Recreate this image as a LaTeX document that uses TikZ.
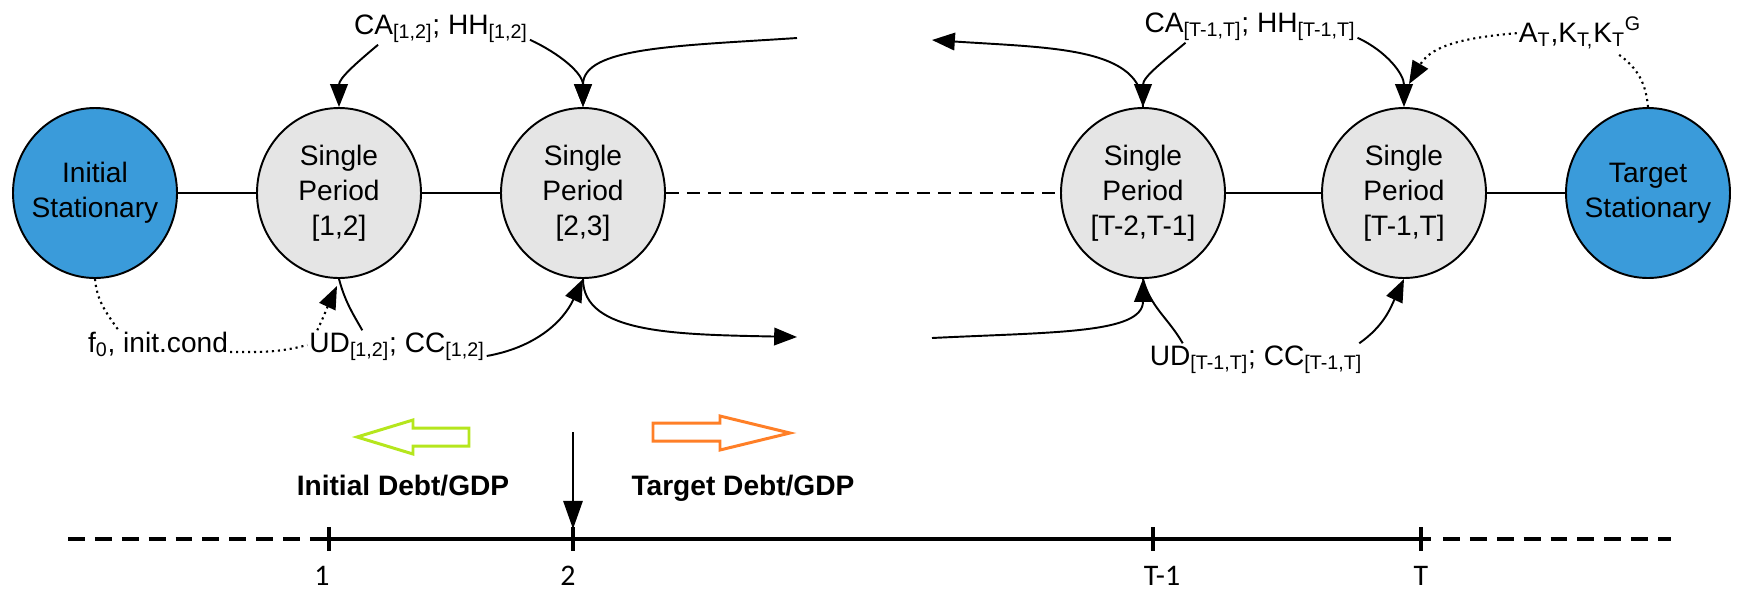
\documentclass[tikz,border=0pt]{standalone}
\usepackage{fontspec}
\setmainfont{Liberation Sans}
\newfontfamily\axisfont{Carlito}
\usetikzlibrary{arrows.meta,shapes.geometric}
\definecolor{statblue}{RGB}{58,155,218}
\definecolor{pergray}{RGB}{229,229,229}
\definecolor{lime}{RGB}{181,230,29}
\definecolor{paintorange}{RGB}{255,127,39}
\newcommand{\circfont}{\fontsize{16}{20}\selectfont}
\newcommand{\lblfont}{\fontsize{16}{19}\selectfont}
\tikzset{
  stat/.style={ellipse,draw=black,line width=1.1pt,fill=#1,minimum width=3.28cm,
    minimum height=3.40cm,inner sep=0pt},
  stat/.default=statblue,
  intext/.style={align=center,font=\circfont,inner sep=0pt},
  lbl/.style={font=\lblfont,inner sep=1pt,anchor=base},
  boldlbl/.style={font=\lblfont\bfseries,inner sep=1pt,anchor=base},
  ticklbl/.style={font={\axisfont\fontsize{17}{20}\selectfont},inner sep=0pt,anchor=base},
  link/.style={line width=1.1pt},
  gaplink/.style={line width=0.8pt,dash pattern=on 7.4pt off 4.5pt},
  flow/.style={line width=1.1pt,-{Triangle[length=13pt,width=10pt]}},
  dotlink/.style={line width=1.2pt,dash pattern=on 1.2pt off 2.2pt},
  dotflow/.style={dotlink,-{Triangle[length=13pt,width=10pt]}},
  axisline/.style={line width=2.3pt},
  axisdash/.style={line width=2.3pt,dash pattern=on 9.6pt off 5.7pt},
  fat/.style={line width=1.7pt,draw=#1,line join=miter},
}
\begin{document}
\begin{tikzpicture}
\useasboundingbox (0,0) rectangle (34.74,-11.88);
% states and periods
\node[stat,label={[intext]center:Initial\\Stationary}] (init) at (1.90,-3.86) {};
\node[stat=pergray,label={[intext]center:Single\\Period\\{[1,2]}}] (p1) at (6.78,-3.86) {};
\node[stat=pergray,label={[intext]center:Single\\Period\\{[2,3]}}] (p2) at (11.66,-3.86) {};
\node[stat=pergray,label={[intext]center:Single\\Period\\{[T-2,T-1]}}] (pA) at (22.86,-3.86) {};
\node[stat=pergray,label={[intext]center:Single\\Period\\{[T-1,T]}}] (pB) at (28.08,-3.86) {};
\node[stat,label={[intext]center:Target\\Stationary}] (targ) at (32.96,-3.86) {};
\draw[link] (init) -- (p1);
\draw[link] (p1) -- (p2);
\draw[gaplink] (p2) -- (pA);
\draw[link] (pA) -- (pB);
\draw[link] (pB) -- (targ);
% labels
\node[lbl] (caA) at (8.82,-0.68) {CA\textsubscript{[1,2]}; HH\textsubscript{[1,2]}};
\node[lbl] (caB) at (25.00,-0.64) {CA\textsubscript{[T-1,T]}; HH\textsubscript{[T-1,T]}};
\node[lbl] (atlbl) at (31.60,-0.84) {A\textsubscript{T},K\textsubscript{T,}K\textsubscript{T}\textsuperscript{G}};
\node[lbl] (f0lbl) at (3.16,-7.04) {f\textsubscript{0}, init.cond};
\node[lbl] (udA) at (7.94,-7.04) {UD\textsubscript{[1,2]}; CC\textsubscript{[1,2]}};
\node[lbl] (udB) at (25.12,-7.30) {UD\textsubscript{[T-1,T]}; CC\textsubscript{[T-1,T]}};
\coordinate (gapTL) at (15.94,-0.76);
\coordinate (gapTR) at (18.64,-0.80);
\coordinate (gapBL) at (15.94,-6.74);
\coordinate (gapBR) at (18.64,-6.76);
% top flows
\draw[flow] ([xshift=0.52cm]caA.south west) to[out=-140,in=90] (p1.north);
\draw[flow] ([yshift=0.1cm]caA.south east) to[out=-25,in=90] (p2.north);
\draw[flow] (gapTL) .. controls +(-2.4,-0.16) and +(0,1.2) .. (p2.north);
\draw[flow] (pA.north) .. controls +(0,1.2) and +(2.4,-0.16) .. (gapTR);
\draw[flow] ([xshift=0.86cm]caB.south west) to[out=-140,in=90] (pA.north);
\draw[flow] ([yshift=0.1cm]caB.south east) to[out=-25,in=90] (pB.north);
\draw[dotlink] (targ.north) to[out=95,in=-35] ([xshift=-0.5cm,yshift=-0.06cm]atlbl.south east);
\draw[dotflow] (atlbl.west) to[out=185,in=60] ([xshift=0.1cm,yshift=0.46cm]pB.north);
% bottom flows
\draw[dotlink] (init.south) to[out=-85,in=125] ([xshift=-0.8cm]f0lbl.north);
\draw[dotlink] (f0lbl.base east) to[out=0,in=195] ([yshift=0.14cm]udA.base west);
\draw[dotflow] ([xshift=0.2cm]udA.north west) to[out=65,in=-115] ([xshift=-0.04cm,yshift=-0.14cm]p1.south);
\draw[link] (p1.south) to[out=-75,in=120] ([xshift=1.1cm]udA.north west);
\draw[flow] ([yshift=-0.08cm]udA.base east) to[out=10,in=-115] (p2.south);
\draw[flow] (p2.south) .. controls +(0,-1.1) and +(-2.4,0.05) .. (gapBL);
\draw[flow] (gapBR) .. controls +(2.4,0.12) and +(0,-1.1) .. (pA.south);
\draw[link] (pA.south) to[out=-75,in=120] ([xshift=0.7cm]udB.north west);
\draw[flow] ([xshift=-0.1cm]udB.north east) to[out=35,in=-115] (pB.south);
% debt/GDP direction
\draw[fat=lime] (7.14,-8.74) -- (8.26,-8.40) -- (8.26,-8.56) -- (9.38,-8.56) -- (9.38,-8.92)
  -- (8.26,-8.92) -- (8.26,-9.08) -- cycle;
\draw[fat=paintorange] (15.80,-8.66) -- (14.40,-8.32) -- (14.40,-8.46) -- (13.06,-8.46)
  -- (13.06,-8.82) -- (14.40,-8.82) -- (14.40,-9.00) -- cycle;
\node[boldlbl] (debtI) at (8.06,-9.90) {Initial Debt/GDP};
\node[boldlbl] (debtT) at (14.86,-9.90) {Target Debt/GDP};
% timeline
\coordinate (axL) at (1.36,-10.78);
\coordinate (axR) at (33.42,-10.78);
\foreach \nm/\xx/\lx/\txt in {t1/6.58/6.44/1,t2/11.46/11.36/2,tT1/23.06/23.24/T-1,tT/28.42/28.42/T}{
  \coordinate (\nm) at (\xx,-10.78);
  \draw[axisline] ([yshift=0.24cm]\nm) -- ([yshift=-0.24cm]\nm);
  \node[ticklbl] (\nm-lbl) at (\lx,-11.70) {\txt};
}
\draw[axisdash] (axL) -- ([xshift=-0.34cm]t1);
\draw[axisline] ([xshift=-0.34cm]t1) -- ([xshift=0.2cm]tT);
\draw[axisdash] ([xshift=0.44cm]tT) -- (axR);
\coordinate (drop) at (11.46,-8.64);
\draw[line width=1.1pt,-{Triangle[length=16pt,width=11pt]}] (drop) -- ([yshift=0.2cm]t2);
\end{tikzpicture}
\end{document}
